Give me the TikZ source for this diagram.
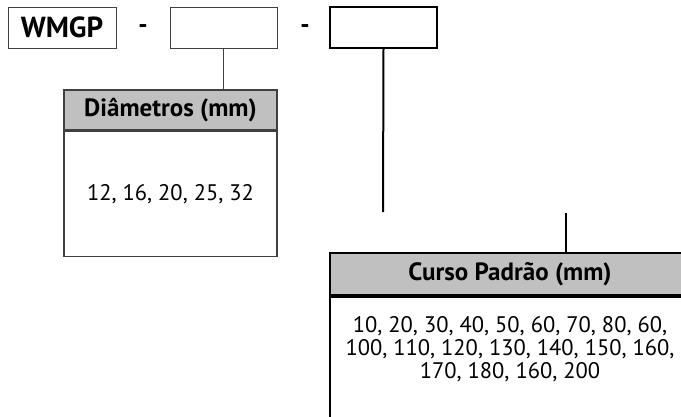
\documentclass[tikz,border=0pt]{standalone}
\usepackage{fontspec}
\setmainfont{PT Sans}
\definecolor{headgray}{HTML}{C0C0C0}
\definecolor{edgegray}{HTML}{404040}
\usetikzlibrary{positioning}

\begin{document}
\begin{tikzpicture}[
  x=1pt, y=-1pt,
  code/.style={draw=edgegray, line width=1pt, minimum width=107pt,
               minimum height=41pt, inner sep=0pt,
               font=\fontsize{29}{29}\selectfont\bfseries},
  codebold/.style={code, draw=black, line width=2pt},
  sep/.style={inner sep=0pt, font=\fontsize{26}{26}\selectfont\bfseries},
  head/.style={draw=edgegray, line width=1.3pt, fill=headgray,
               inner sep=0pt, font=\fontsize{25}{25}\selectfont\bfseries},
  body/.style={draw=edgegray, line width=1.3pt, fill=white, inner sep=0pt,
               align=center, font=\fontsize{22.5}{23}\selectfont},
  wire/.style={draw=edgegray, line width=1pt},
  wirebold/.style={draw=black, line width=2pt},
]
\clip (0,0) rectangle (681,416);

% code boxes
\node[code, minimum width=108pt] (wmgp) at (62,27.5) {WMGP};
\node[sep] (dashA) at (143,29) {-};
\node[code] (diamcode) at (223.5,27.5) {};
\node[sep] (dashB) at (305,29) {-};
\node[codebold] (cursocode) at (383.5,27.5) {};

% diameters
\node[head, minimum width=213pt, minimum height=40pt] (diamhead) at (170.5,110) {Diâmetros (mm)};
\node[body, minimum width=213pt, minimum height=125pt, below=0pt of diamhead] (diambody) {12, 16, 20, 25, 32};

% stroke
\node[head, draw=black, line width=2pt, minimum width=360pt, minimum height=42pt] (curshead) at (510,274) {Curso Padrão (mm)};
\node[body, draw=black, line width=2pt, minimum width=360pt, minimum height=200pt, below=0pt of curshead] (cursbody) {};
\node[body, draw=none, fill=none, below=20pt of curshead] (curstext)
  {10, 20, 30, 40, 50, 60, 70, 80, 60,\\100, 110, 120, 130, 140, 150, 160,\\170, 180, 160, 200};

\coordinate (cursend) at (383,212);
\coordinate (curstop) at (566,213);

\draw[wire] (diamcode.south) -- (diamcode.south |- diamhead.north);
\draw[wirebold] (cursocode.south) -- (cursend);
\draw[wirebold] (curstop) -- (curstop |- curshead.north);
\end{tikzpicture}
\end{document}
